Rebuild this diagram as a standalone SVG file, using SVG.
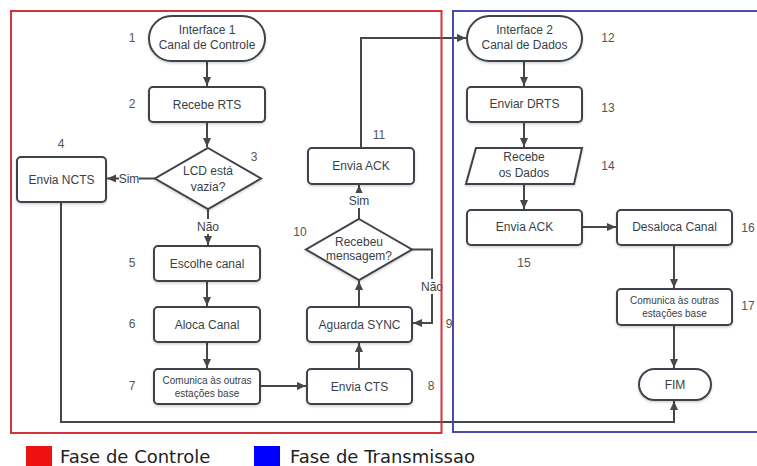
<svg xmlns="http://www.w3.org/2000/svg" width="757" height="466" viewBox="0 0 757 466">
  <defs>
    <marker id="arrow" markerUnits="userSpaceOnUse" markerWidth="10" markerHeight="10" refX="9" refY="5" orient="auto">
      <path d="M0,1 L9,5 L0,9 Z" fill="#474747"/>
    </marker>
    <filter id="shadow" x="-10%" y="-10%" width="120%" height="130%">
      <feDropShadow dx="0" dy="1.5" stdDeviation="1.2" flood-color="#000" flood-opacity="0.18"/>
    </filter>
  </defs>
  <style>
    .shape { fill: #ffffff; stroke: #3d434c; stroke-width: 2; filter: url(#shadow); }
    .t { font-family: "Liberation Sans", Arial, sans-serif; font-size: 12px; fill: #3a3f47; text-anchor: middle; }
    .ts { font-family: "Liberation Sans", Arial, sans-serif; font-size: 10px; fill: #3a3f47; text-anchor: middle; }
    .num { font-family: "Liberation Sans", Arial, sans-serif; font-size: 12px; fill: #555555; text-anchor: middle; }
    .edge { fill: none; stroke: #474747; stroke-width: 2; }
    .lbl { font-family: "Liberation Sans", Arial, sans-serif; font-size: 12px; fill: #3a3f47; text-anchor: middle; }
    .lblbg { fill: #ffffff; }
    .legend { font-family: "DejaVu Sans", Verdana, sans-serif; font-size: 18px; fill: #222222; }
  </style>

  <rect width="757" height="466" fill="#ffffff"/>

  <!-- connectors -->
  <g id="connectors">
    <path class="edge" d="M207,61 V86" marker-end="url(#arrow)"/>
    <path class="edge" d="M207,122 V147" marker-end="url(#arrow)"/>
    <path class="edge" d="M155,178.5 H107" marker-end="url(#arrow)"/>
    <path class="edge" d="M208,209 V245" marker-end="url(#arrow)"/>
    <path class="edge" d="M207,281 V306" marker-end="url(#arrow)"/>
    <path class="edge" d="M207,342 V368" marker-end="url(#arrow)"/>
    <path class="edge" d="M260,386 H306" marker-end="url(#arrow)"/>
    <path class="edge" d="M359,369 V343" marker-end="url(#arrow)"/>
    <path class="edge" d="M359,307 V281" marker-end="url(#arrow)"/>
    <path class="edge" d="M412,249.5 H432 V323 H413" marker-end="url(#arrow)"/>
    <path class="edge" d="M359,219 V185" marker-end="url(#arrow)"/>
    <path class="edge" d="M361,148 V38 H466" marker-end="url(#arrow)"/>
    <path class="edge" d="M524,61 V86" marker-end="url(#arrow)"/>
    <path class="edge" d="M524,122 V147" marker-end="url(#arrow)"/>
    <path class="edge" d="M524,184 V209" marker-end="url(#arrow)"/>
    <path class="edge" d="M582,227 H616" marker-end="url(#arrow)"/>
    <path class="edge" d="M674,245 V288" marker-end="url(#arrow)"/>
    <path class="edge" d="M674,325 V368" marker-end="url(#arrow)"/>
    <path class="edge" d="M61,202 V422 H674 V401" marker-end="url(#arrow)"/>

    <!-- connector labels -->
    <rect class="lblbg" x="119" y="171" width="20" height="15"/>
    <text class="lbl" x="129" y="182.5">Sim</text>
    <rect class="lblbg" x="196" y="219" width="24" height="15"/>
    <text class="lbl" x="208" y="231">Não</text>
    <rect class="lblbg" x="349" y="193" width="20" height="15"/>
    <text class="lbl" x="359" y="205">Sim</text>
    <rect class="lblbg" x="420" y="279" width="24" height="15"/>
    <text class="lbl" x="432" y="291">Não</text>
  </g>

  <!-- phase frames -->
  <rect x="11" y="11" width="430.5" height="422" fill="none" stroke="#d3323a" stroke-width="2"/>
  <rect x="453" y="11" width="320" height="421" fill="none" stroke="#4b4bab" stroke-width="2"/>

  <!-- control phase nodes -->
  <g id="n1">
    <rect class="shape" x="149" y="16" width="116" height="45" rx="22.5"/>
    <text class="t" x="207" y="33.5">Interface 1</text>
    <text class="t" x="207" y="48.5">Canal de Controle</text>
    <text class="num" x="132" y="41.5">1</text>
  </g>
  <g id="n2">
    <rect class="shape" x="149" y="87" width="116" height="35" rx="4"/>
    <text class="t" x="207" y="108.5">Recebe RTS</text>
    <text class="num" x="132" y="107.5">2</text>
  </g>
  <g id="n3">
    <polygon class="shape" points="208,148 261,178.5 208,209 155,178.5"/>
    <text class="t" x="208" y="175">LCD está</text>
    <text class="t" x="208" y="191">vazia?</text>
    <text class="num" x="254" y="160.5">3</text>
  </g>
  <g id="n4">
    <rect class="shape" x="17" y="157" width="89" height="45" rx="4"/>
    <text class="t" x="61.5" y="183.5">Envia NCTS</text>
    <text class="num" x="61" y="147.5">4</text>
  </g>
  <g id="n5">
    <rect class="shape" x="154" y="246" width="106" height="35" rx="4"/>
    <text class="t" x="207" y="267.5">Escolhe canal</text>
    <text class="num" x="132" y="266.5">5</text>
  </g>
  <g id="n6">
    <rect class="shape" x="154" y="307" width="106" height="35" rx="4"/>
    <text class="t" x="207" y="328.5">Aloca Canal</text>
    <text class="num" x="132" y="327.5">6</text>
  </g>
  <g id="n7">
    <rect class="shape" x="154" y="369" width="106" height="35" rx="4"/>
    <text class="ts" x="207" y="383.5">Comunica às outras</text>
    <text class="ts" x="207" y="396.5">estações base</text>
    <text class="num" x="132" y="389.5">7</text>
  </g>
  <g id="n8">
    <rect class="shape" x="307" y="369" width="105" height="35" rx="4"/>
    <text class="t" x="359.5" y="390.5">Envia CTS</text>
    <text class="num" x="431" y="389.5">8</text>
  </g>
  <g id="n9">
    <rect class="shape" x="307" y="307" width="105" height="35" rx="4"/>
    <text class="t" x="359.5" y="328.5">Aguarda SYNC</text>
    <text class="num" x="449" y="327.5">9</text>
  </g>
  <g id="n10">
    <polygon class="shape" points="359,219 412,249.5 359,280 306,249.5"/>
    <text class="t" x="359" y="246">Recebeu</text>
    <text class="t" x="359" y="260">mensagem?</text>
    <text class="num" x="300" y="235.5">10</text>
  </g>
  <g id="n11">
    <rect class="shape" x="308" y="148" width="106" height="36" rx="4"/>
    <text class="t" x="361" y="170">Envia ACK</text>
    <text class="num" x="379" y="138.5">11</text>
  </g>

  <!-- transmission phase nodes -->
  <g id="n12">
    <rect class="shape" x="467" y="16" width="115" height="45" rx="22.5"/>
    <text class="t" x="524.5" y="33.5">Interface 2</text>
    <text class="t" x="524.5" y="48.5">Canal de Dados</text>
    <text class="num" x="608" y="41.5">12</text>
  </g>
  <g id="n13">
    <rect class="shape" x="467" y="87" width="115" height="35" rx="4"/>
    <text class="t" x="524.5" y="107.5">Enviar DRTS</text>
    <text class="num" x="608" y="111.5">13</text>
  </g>
  <g id="n14">
    <polygon class="shape" points="476,148 582,148 574,184 466,184"/>
    <text class="t" x="524" y="161">Recebe</text>
    <text class="t" x="524" y="177">os Dados</text>
    <text class="num" x="608" y="169.5">14</text>
  </g>
  <g id="n15">
    <rect class="shape" x="467" y="210" width="115" height="35" rx="4"/>
    <text class="t" x="524.5" y="231">Envia ACK</text>
    <text class="num" x="524" y="266.5">15</text>
  </g>
  <g id="n16">
    <rect class="shape" x="617" y="210" width="115" height="35" rx="4"/>
    <text class="t" x="674.5" y="231">Desaloca Canal</text>
    <text class="num" x="748" y="231.5">16</text>
  </g>
  <g id="n17">
    <rect class="shape" x="617" y="289" width="115" height="36" rx="4"/>
    <text class="ts" x="674.5" y="304">Comunica às outras</text>
    <text class="ts" x="674.5" y="317">estações base</text>
    <text class="num" x="748" y="309.5">17</text>
  </g>
  <g id="fim">
    <rect class="shape" x="639" y="369" width="72" height="31" rx="15.5"/>
    <text class="t" x="675" y="388.5">FIM</text>
  </g>

  <!-- legend -->
  <g id="legend">
    <rect x="26" y="446" width="26" height="22" fill="#ee1111"/>
    <text class="legend" x="60" y="463">Fase de Controle</text>
    <rect x="254" y="446" width="26" height="22" fill="#0000ff"/>
    <text class="legend" x="290" y="463">Fase de Transmissao</text>
  </g>
</svg>
